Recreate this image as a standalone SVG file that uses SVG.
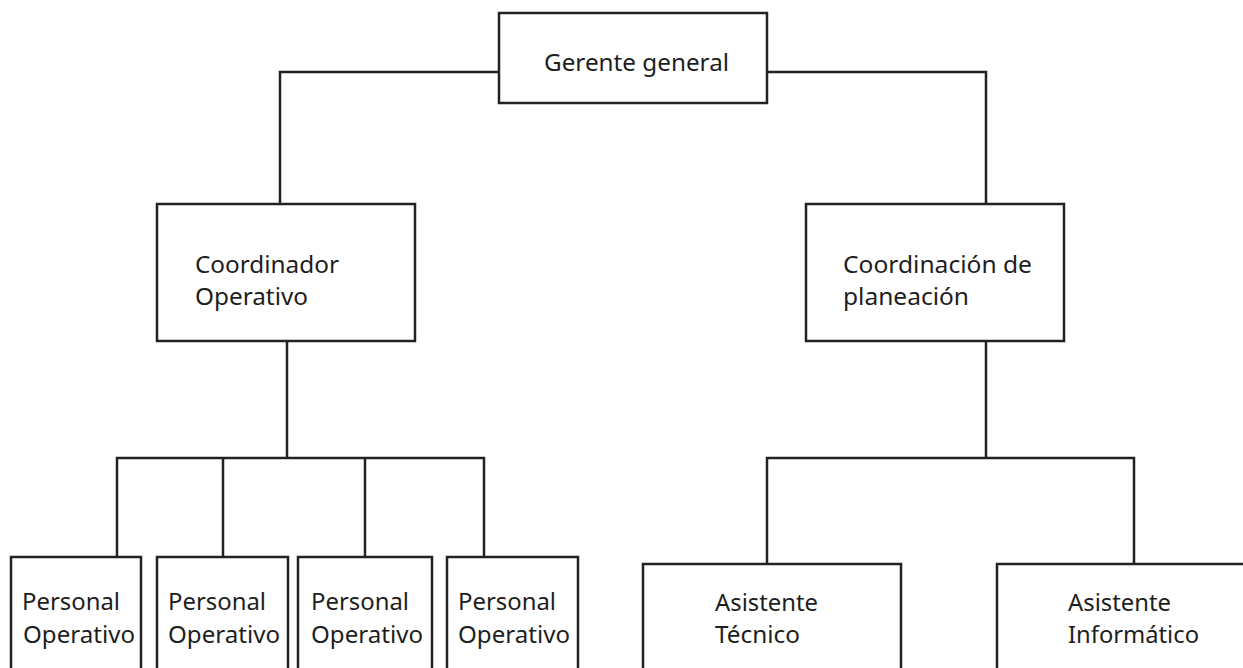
<svg xmlns="http://www.w3.org/2000/svg" width="1243" height="668" viewBox="0 0 1243 668">
  <style>
    .box { fill: #ffffff; stroke: #222222; stroke-width: 2.5; }
    .conn { fill: none; stroke: #222222; stroke-width: 2.5; }
    .lbl { font-family: "Noto Sans", "Open Sans", sans-serif; font-size: 24px; fill: #1e1e1e; }
  </style>
  <rect x="0" y="0" width="1243" height="668" fill="#ffffff"/>
  <g id="connectors">
    <path class="conn" d="M499,72 H280 V204"/>
    <path class="conn" d="M767,72 H986 V204"/>
    <path class="conn" d="M287,341 V458"/>
    <path class="conn" d="M117,557 V458 H484 V557"/>
    <path class="conn" d="M223,458 V557"/>
    <path class="conn" d="M365,458 V557"/>
    <path class="conn" d="M986,341 V458"/>
    <path class="conn" d="M767,564 V458 H1134 V564"/>
  </g>
  <g id="gerente">
    <rect class="box" x="499" y="13" width="268" height="90"/>
    <text class="lbl" x="544" y="71" textLength="185" lengthAdjust="spacingAndGlyphs">Gerente general</text>
  </g>
  <g id="coordinador">
    <rect class="box" x="157" y="204" width="258" height="137"/>
    <text class="lbl" x="195" y="273" textLength="144" lengthAdjust="spacingAndGlyphs">Coordinador</text>
    <text class="lbl" x="195" y="305" textLength="113" lengthAdjust="spacingAndGlyphs">Operativo</text>
  </g>
  <g id="coordinacion">
    <rect class="box" x="806" y="204" width="258" height="137"/>
    <text class="lbl" x="843" y="273" textLength="189" lengthAdjust="spacingAndGlyphs">Coordinación de</text>
    <text class="lbl" x="843" y="305" textLength="126" lengthAdjust="spacingAndGlyphs">planeación</text>
  </g>
  <g id="personal1">
    <rect class="box" x="11" y="557" width="130" height="130"/>
    <text class="lbl" x="22" y="610" textLength="98" lengthAdjust="spacingAndGlyphs">Personal</text>
    <text class="lbl" x="23" y="643" textLength="112" lengthAdjust="spacingAndGlyphs">Operativo</text>
  </g>
  <g id="personal2">
    <rect class="box" x="157" y="557" width="131" height="130"/>
    <text class="lbl" x="168" y="610" textLength="98" lengthAdjust="spacingAndGlyphs">Personal</text>
    <text class="lbl" x="168" y="643" textLength="112" lengthAdjust="spacingAndGlyphs">Operativo</text>
  </g>
  <g id="personal3">
    <rect class="box" x="298" y="557" width="134" height="130"/>
    <text class="lbl" x="311" y="610" textLength="98" lengthAdjust="spacingAndGlyphs">Personal</text>
    <text class="lbl" x="311" y="643" textLength="112" lengthAdjust="spacingAndGlyphs">Operativo</text>
  </g>
  <g id="personal4">
    <rect class="box" x="447" y="557" width="131" height="130"/>
    <text class="lbl" x="458" y="610" textLength="98" lengthAdjust="spacingAndGlyphs">Personal</text>
    <text class="lbl" x="458" y="643" textLength="112" lengthAdjust="spacingAndGlyphs">Operativo</text>
  </g>
  <g id="asistente-tecnico">
    <rect class="box" x="643" y="564" width="258" height="130"/>
    <text class="lbl" x="715" y="611" textLength="103" lengthAdjust="spacingAndGlyphs">Asistente</text>
    <text class="lbl" x="715" y="643" textLength="85" lengthAdjust="spacingAndGlyphs">Técnico</text>
  </g>
  <g id="asistente-informatico">
    <rect class="box" x="997" y="564" width="270" height="130"/>
    <text class="lbl" x="1068" y="611" textLength="103" lengthAdjust="spacingAndGlyphs">Asistente</text>
    <text class="lbl" x="1068" y="643" textLength="131" lengthAdjust="spacingAndGlyphs">Informático</text>
  </g>
</svg>
